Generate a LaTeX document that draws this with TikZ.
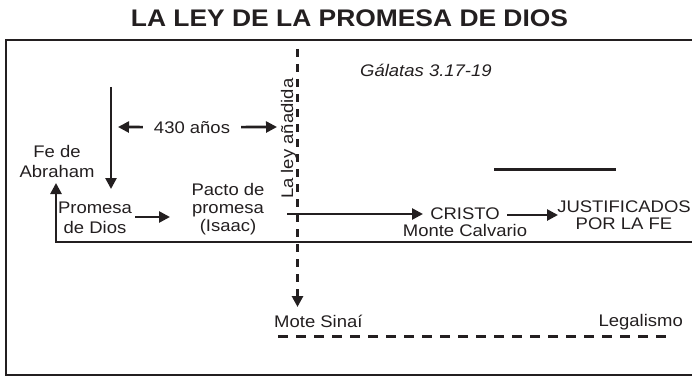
\documentclass[tikz,border=0pt]{standalone}
\usepackage{fontspec}
\setmainfont{Liberation Sans}[FakeStretch=1.1]
\usetikzlibrary{arrows.meta}

\definecolor{tinta}{HTML}{231F20}

\tikzset{
  texto/.style={font=\fontsize{16.8}{18}\selectfont, inner sep=0pt, align=center, anchor=base, text=tinta},
  flecha/.style={line width=2.6pt, draw=tinta, -{Triangle[length=11pt,width=11pt]}},
  raya/.style={line width=2.6pt, draw=tinta}
}

\begin{document}
\begin{tikzpicture}[x=1pt,y=-1pt]
    \path[use as bounding box] (0,0) rectangle (692,377);
    \clip (0,0) rectangle (692,377);

    % Title and frame
    \node[texto, font=\fontsize{24}{28}\selectfont\bfseries] (titulo) at (349.5,27) {LA LEY DE LA PROMESA DE DIOS};
    \draw[raya, line width=2.8pt] (700,40) -- (6,40) -- (6,375) -- (700,375);

    % Labels (multi-line nodes sit on their last line)
    \node[texto, anchor=base west, font=\fontsize{16.8}{18}\selectfont\itshape] (galatas) at (360,77) {Gálatas 3.17-19};
    \node[texto] (anios) at (192,133) {430 años};
    \node[texto] (fe) at (57,177) {Fe de\\[2pt]Abraham};
    \node[texto] (promesa) at (95,233) {Promesa\\[2pt]de Dios};
    \node[texto] (pacto) at (228,231) {Pacto de\\promesa\\(Isaac)};
    \node[texto] (cristo) at (465,236) {CRISTO\\[-1pt]Monte Calvario};
    \node[texto] (justif) at (624,229) {JUSTIFICADOS\\[-1pt]POR LA FE};
    \node[texto, anchor=base west] (sinai) at (274,327) {Mote Sinaí};
    \node[texto, anchor=base east] (legal) at (683,326) {Legalismo};
    \node[texto, anchor=base west, rotate=90] (ley) at (293,199) {La ley añadida};

    % Ends of the connectors
    \coordinate (arriba) at (111,87);
    \coordinate (abajo) at (111,189);
    \coordinate (izq) at (118,127);
    \coordinate (der) at (277,127);
    \coordinate (esquina) at (56,242);
    \coordinate (finlinea) at (700,242);
    \coordinate (haciafe) at (56,183);
    \coordinate (desdepromesa) at (135,217);
    \coordinate (haciapacto) at (170,217);
    \coordinate (leyini) at (297.5,49);
    \coordinate (leyfin) at (297.5,307);
    \coordinate (desdeley) at (287,214);
    \coordinate (haciacristo) at (423,214);
    \coordinate (desdecristo) at (507,215);
    \coordinate (haciajust) at (558,215);
    \coordinate (legini) at (278,336);
    \coordinate (legfin) at (672,336);

    % Arrows
    \draw[flecha] (arriba) -- (abajo);
    \draw[flecha] (anios.west) ++(-11,0) -- (izq);
    \draw[flecha] (anios.east) ++(11,0) -- (der);
    \draw[flecha] (finlinea) -- (esquina) -- (haciafe);
    \draw[flecha] (desdepromesa) -- (haciapacto);
    \draw[flecha] (desdeley) -- (haciacristo);
    \draw[flecha] (desdecristo) -- (haciajust);
    \draw[flecha, line width=2.8pt, dash pattern=on 8pt off 7pt] (leyini) -- (leyfin);
    \draw[raya, line width=3pt, dash pattern=on 10pt off 8pt] (legini) -- (legfin);
    \draw[raya, line width=3pt] (494,169) -- (616,169);
\end{tikzpicture}
\end{document}
